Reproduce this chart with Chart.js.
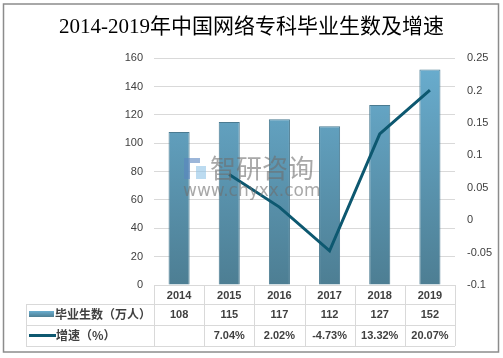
<!DOCTYPE html>
<html>
<head>
<meta charset="utf-8">
<script src="https://cdn.jsdelivr.net/npm/chart.js@4"></script>
<style>
  html, body { margin: 0; padding: 0; background: #fff; }
  #wrap { width: 503px; height: 358px; }
</style>
</head>
<body>
<div id="wrap"><canvas id="gradChart"></canvas></div>
<script>
// 数据
const years = ['2014', '2015', '2016', '2017', '2018', '2019'];
const graduates = [108, 115, 117, 112, 127, 152];
const growth = [null, 0.0704, 0.0202, -0.0473, 0.1332, 0.2007];
const growthText = ['', '7.04%', '2.02%', '-4.73%', '13.32%', '20.07%'];
const barLabel = '毕业生数（万人）';
const lineLabel = '增速（%）';

const cjk = '"Liberation Sans", "Noto Sans CJK SC", sans-serif';

function barGradient(ctx) {
  const area = ctx.chart.chartArea;
  if (!area) return '#5e9ab8';
  const g = ctx.chart.ctx.createLinearGradient(0, area.top, 0, area.bottom);
  g.addColorStop(0, '#6aaed0');
  g.addColorStop(1, '#4d7e93');
  return g;
}

// 边框、底部数据表和水印
const tablePlugin = {
  id: 'tablePlugin',
  beforeDraw(chart) {
    const c = chart.ctx;
    c.save();
    c.fillStyle = '#fff';
    c.fillRect(0, 0, chart.width, chart.height);
    c.strokeStyle = '#8c8c8c';
    c.lineWidth = 1.5;
    c.strokeRect(3.5, 4, 495, 348);
    c.restore();
  },
  afterDatasetsDraw(chart) {
    const c = chart.ctx;
    const x = chart.scales.x;
    const area = chart.chartArea;
    const rows = [area.bottom, 304, 325, 346];
    const left = 26;
    c.save();
    c.strokeStyle = '#d9d9d9';
    c.lineWidth = 1;
    // 横线
    c.beginPath();
    c.moveTo(area.left, rows[0] + 0.5); c.lineTo(area.right, rows[0] + 0.5);
    for (let i = 1; i < rows.length; i++) {
      c.moveTo(left, rows[i] + 0.5); c.lineTo(area.right, rows[i] + 0.5);
    }
    // 竖线
    const step = (area.right - area.left) / years.length;
    for (let i = 0; i <= years.length; i++) {
      const px = Math.round(area.left + i * step) + 0.5;
      c.moveTo(px, rows[0]); c.lineTo(px, rows[3]);
    }
    c.moveTo(left + 0.5, rows[1]); c.lineTo(left + 0.5, rows[3]);
    c.stroke();

    c.fillStyle = '#404040';
    c.font = 'bold 11px ' + cjk;
    c.textAlign = 'center';
    c.textBaseline = 'middle';
    years.forEach((y, i) => {
      const cx = x.getPixelForValue(i);
      c.fillText(y, cx, (rows[0] + rows[1]) / 2 + 1);
      c.fillText(String(graduates[i]), cx, (rows[1] + rows[2]) / 2);
      c.fillText(growthText[i], cx, (rows[2] + rows[3]) / 2);
    });

    // 图例
    const g = c.createLinearGradient(0, 311, 0, 317);
    g.addColorStop(0, '#6aaed0');
    g.addColorStop(1, '#4d7e93');
    c.fillStyle = g;
    c.fillRect(29, 311, 25, 6);
    c.strokeStyle = '#0d5870';
    c.lineWidth = 3;
    c.beginPath();
    c.moveTo(29, 335.5); c.lineTo(56, 335.5);
    c.stroke();
    c.fillStyle = '#404040';
    c.textAlign = 'left';
    c.font = 'bold 12px "Noto Sans CJK SC", sans-serif';
    c.fillText(barLabel, 55, (rows[1] + rows[2]) / 2);
    c.fillText(lineLabel, 56, (rows[2] + rows[3]) / 2);

    // 水印
    c.globalAlpha = 0.6;
    c.fillStyle = '#6e6e6e';
    c.font = '26px "Noto Sans CJK SC", sans-serif';
    c.fillText('智研咨询', 210, 168);
    c.font = '17px "DejaVu Sans", sans-serif';
    c.fillText('www.chyxx.com', 183, 192);
    c.fillStyle = '#5a86c0';
    c.fillRect(184, 158, 6, 21);
    c.fillRect(190, 158, 10, 5);
    c.fillStyle = '#8fc3e6';
    c.fillRect(196, 166, 10, 13);
    c.restore();
  }
};

new Chart(document.getElementById('gradChart'), {
  type: 'bar',
  data: {
    labels: years,
    datasets: [
      {
        type: 'line',
        label: lineLabel,
        data: growth,
        yAxisID: 'y1',
        borderColor: '#0d5870',
        borderWidth: 3,
        pointRadius: 0,
        tension: 0,
        order: 0
      },
      {
        label: barLabel,
        data: graduates,
        yAxisID: 'y',
        backgroundColor: barGradient,
        borderColor: '#4a7b91',
        borderWidth: 1,
        categoryPercentage: 1,
        barPercentage: 0.42,
        order: 1
      }
    ]
  },
  options: {
    responsive: true,
    maintainAspectRatio: false,
    animation: false,
    layout: { padding: { left: 0, right: 0, top: 0, bottom: 73 } },
    plugins: {
      legend: { display: false },
      tooltip: { enabled: false },
      title: {
        display: true,
        text: '2014-2019年中国网络专科毕业生数及增速',
        color: '#000',
        font: { family: '"Liberation Serif", "Noto Sans CJK SC", serif', size: 21, weight: 'normal' },
        padding: { top: 15, bottom: 18 }
      }
    },
    scales: {
      x: { display: false },
      y: {
        position: 'left',
        min: 0,
        max: 160,
        ticks: { stepSize: 20, color: '#404040', padding: 11, font: { family: cjk, size: 11 } },
        grid: { color: '#d9d9d9', drawTicks: false },
        border: { display: false },
        afterFit(s) { s.width = 154; }
      },
      y1: {
        position: 'right',
        min: -0.1,
        max: 0.25,
        ticks: { stepSize: 0.05, color: '#404040', padding: 12, font: { family: cjk, size: 11 },
          callback: v => Math.round(v * 100) / 100 },
        grid: { display: false, drawTicks: false },
        border: { display: false },
        afterFit(s) { s.width = 48; }
      }
    }
  },
  plugins: [tablePlugin]
});
</script>
</body>
</html>
